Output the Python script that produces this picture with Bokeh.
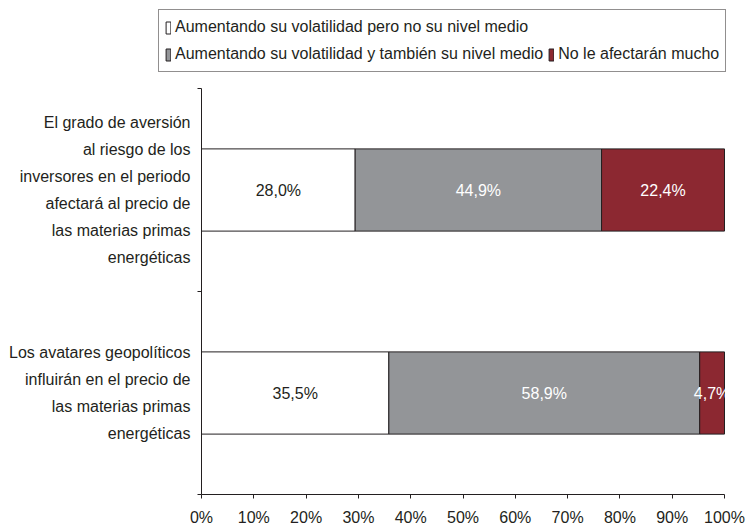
from bokeh.plotting import figure
from bokeh.models import (ColumnDataSource, Legend, LegendItem, LabelSet,
                          FixedTicker, NumeralTickFormatter, Range1d)
from bokeh.core.properties import value
from bokeh.embed import file_html
from bokeh.resources import INLINE

# ---------------- data ----------------
category_lines = [
    ["El grado de aversión", "al riesgo de los", "inversores en el periodo",
     "afectará al precio de", "las materias primas", "energéticas"],
    ["Los avatares geopolíticos", "influirán en el precio de",
     "las materias primas", "energéticas"],
]
series_names = [
    "Aumentando su volatilidad pero no su nivel medio",
    "Aumentando su volatilidad y también su nivel medio",
    "No le afectarán mucho",
]
volatilidad_sin_nivel = [28.0, 35.5]
volatilidad_con_nivel = [44.9, 58.9]
no_afectaran = [22.4, 4.7]
x_ticks = [0.0, 0.1, 0.2, 0.3, 0.4, 0.5, 0.6, 0.7, 0.8, 0.9, 1.0]

# ---------------- styles / layout ----------------
FONT = "Liberation Sans"
FS = "16px"
fills = ["#ffffff", "#939598", "#8c2831"]
text_colors = ["#231f20", "#ffffff", "#ffffff"]
EDGE = "#231f20"

W, H = 752, 529
X0_PX, X1_PX = 201, 724          # screen position of 0% and 100%
Y0_PX, YTOP_PX = 494, 88         # screen position of axis and plot top

series_values = [volatilidad_sin_nivel, volatilidad_con_nivel, no_afectaran]
n_cat = len(category_lines)
ys = [n_cat - i - 0.5 for i in range(n_cat)]
totals = [sum(s[i] for s in series_values) for i in range(n_cat)]

xscale = 1.0 / (X1_PX - X0_PX)
yscale = n_cat / (Y0_PX - YTOP_PX)
x_start = -X0_PX * xscale
x_end = 1.0 + (W - X1_PX) * xscale
y_start = -(H - Y0_PX) * yscale
y_end = n_cat + YTOP_PX * yscale

p = figure(width=W, height=H, output_backend="svg", toolbar_location=None,
           x_range=Range1d(x_start, x_end), y_range=Range1d(y_start, y_end),
           min_border=0)
p.outline_line_color = None
p.xgrid.visible = False
p.ygrid.visible = False
p.background_fill_color = "white"
p.border_fill_color = "white"

renderers = []
cum = [0.0] * n_cat
for j, vals in enumerate(series_values):
    left = [cum[i] for i in range(n_cat)]
    right = [cum[i] + vals[i] / totals[i] for i in range(n_cat)]
    cum = right
    src = ColumnDataSource(dict(
        y=ys, left=left, right=right,
        mid=[(l + r) / 2 for l, r in zip(left, right)],
        label=[f"{v:.1f}".replace(".", ",") + "%" for v in vals],
    ))
    r = p.hbar(y="y", left="left", right="right", height=0.405, source=src,
               fill_color=fills[j], line_color=EDGE, line_width=1)
    renderers.append(r)
    p.text(x="mid", y="y", text="label", source=src, text_align="center",
           text_baseline="middle", text_color=text_colors[j],
           text_font=value(FONT), text_font_size=FS)

# category labels, one line each
lx, ly, lt, lo = [], [], [], []
LINE_H = 27
for i, lines in enumerate(category_lines):
    n = len(lines)
    for k, t in enumerate(lines):
        lx.append(0)
        ly.append(ys[i])
        lt.append(t)
        lo.append(((n - 1) / 2 - k) * LINE_H)
lab_src = ColumnDataSource(dict(x=lx, y=ly, text=lt, yo=lo))
p.add_layout(LabelSet(x="x", y="y", text="text", y_offset="yo", x_offset=-11,
                      source=lab_src, text_align="right", text_baseline="middle",
                      text_font=value(FONT), text_font_size=FS,
                      text_color="#231f20"))

# axes (drawn at data 0 so they take no panel room)
xa = p.xaxis[0]
xa.fixed_location = 0
xa.bounds = (0, 1)
xa.ticker = FixedTicker(ticks=x_ticks)
xa.formatter = NumeralTickFormatter(format="0%")
xa.major_label_text_font = FONT
xa.major_label_text_font_size = FS
xa.major_label_text_color = "#231f20"
xa.axis_line_color = EDGE
xa.major_tick_line_color = EDGE
xa.major_tick_out = 4
xa.major_tick_in = 0
xa.minor_tick_out = 0
xa.minor_tick_in = 0
xa.major_label_standoff = 10

ya = p.yaxis[0]
ya.fixed_location = 0
ya.bounds = (0, n_cat)
ya.ticker = FixedTicker(ticks=list(range(n_cat + 1)))
ya.major_label_overrides = {k: "" for k in range(n_cat + 1)}
ya.axis_line_color = EDGE
ya.major_tick_line_color = EDGE
ya.major_tick_out = 4
ya.major_tick_in = 0
ya.minor_tick_out = 0
ya.minor_tick_in = 0

legend = Legend(
    items=[LegendItem(label=series_names[0], renderers=[renderers[0]]),
           LegendItem(label="", renderers=[]),
           LegendItem(label=series_names[1], renderers=[renderers[1]]),
           LegendItem(label=series_names[2], renderers=[renderers[2]])],
    orientation="horizontal", ncols=2, location=(158, H - 72),
    glyph_width=6, glyph_height=15, label_standoff=4, spacing=5,
    label_height=22, padding=6, margin=0,
    label_text_font=FONT, label_text_font_size=FS, label_text_color="#231f20",
    border_line_color="#231f20", border_line_width=1,
    background_fill_color="white", background_fill_alpha=1.0,
)
p.add_layout(legend)

open("out.html", "w").write(file_html(p, INLINE))
